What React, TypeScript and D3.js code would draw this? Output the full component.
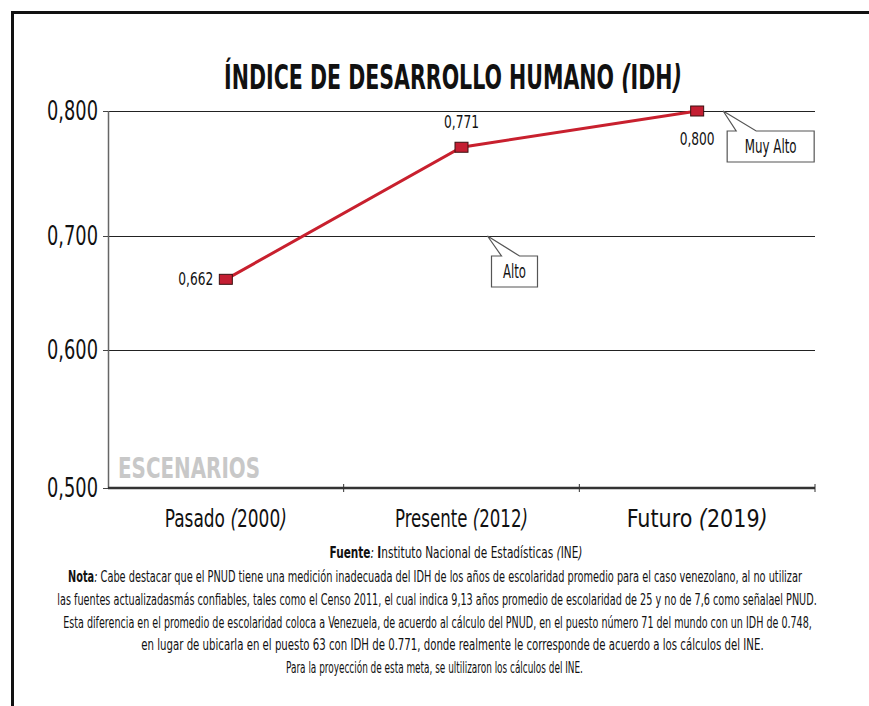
import React, { useRef, useEffect } from "react";
import * as d3 from "d3";

// chart data
const categories = ["Pasado", "Presente", "Futuro"];
const years = ["2000", "2012", "2019"];
const idhValues = [0.662, 0.771, 0.8];
const yTicks = [0.5, 0.6, 0.7, 0.8];
const callouts = [
  { label: "Alto", level: 0.7, cat: "Presente" },
  { label: "Muy Alto", level: 0.8, cat: "Futuro" },
];
const noteLines = [
  "las fuentes actualizadasmás confiables, tales como el Censo 2011, el cual indica 9,13 años promedio de escolaridad de 25 y no de 7,6 como señalael PNUD.",
  "Esta diferencia en el promedio de escolaridad coloca a Venezuela, de acuerdo al cálculo del PNUD, en el puesto número 71 del mundo con un IDH de 0.748,",
  "en lugar de ubicarla en el puesto 63 con IDH de 0.771, donde realmente le corresponde de acuerdo a los cálculos del INE.",
  "Para la proyección de esta meta, se ultilizaron los cálculos del INE.",
];

const W = 869;
const H = 706;
const FONT = "'DejaVu Sans Condensed', 'DejaVu Sans', sans-serif";
const fmt = (v: number) => v.toFixed(3).replace(".", ",");

// squeeze a text horizontally around its anchor so it takes the given width
function squeeze(node: SVGTextElement, width: number) {
  const bw = node.getBBox().width;
  if (!bw) return;
  const s = width / bw;
  const ax = +(node.getAttribute("x") || 0);
  d3.select(node).attr("transform", `translate(${ax * (1 - s)},0) scale(${s},1)`);
}

const App = () => {
  const svgRef = useRef<SVGSVGElement>(null);

  useEffect(() => {
    const svg = d3.select(svgRef.current);
    svg.selectAll("*").remove();
    svg.style("font-family", FONT);

    const left = 108,
      right = 815,
      top = 111,
      bottom = 488;

    const x = d3.scaleBand().domain(categories).range([left, right]);
    // the original axis has uneven tick spacing, so the scale is piecewise
    const y = d3.scaleLinear().domain(yTicks).range([bottom, 350, 236, top]);
    const cx = (c: string) => (x(c) as number) + x.bandwidth() / 2;

    // frame
    svg
      .append("rect")
      .attr("x", 12.5)
      .attr("y", 12.5)
      .attr("width", W + 20)
      .attr("height", H + 20)
      .attr("fill", "white")
      .attr("stroke", "#111")
      .attr("stroke-width", 3);

    // title
    const title = svg
      .append("text")
      .attr("x", 453)
      .attr("y", 89)
      .attr("text-anchor", "middle")
      .attr("font-size", 34)
      .attr("font-weight", "bold")
      .attr("fill", "#111");
    title.append("tspan").text("ÍNDICE DE DESARROLLO HUMANO ");
    title.append("tspan").attr("font-style", "italic").text("(");
    title.append("tspan").text("IDH");
    title.append("tspan").attr("font-style", "italic").text(")");
    squeeze(title.node() as SVGTextElement, 458);

    // gridlines
    svg
      .append("g")
      .selectAll("line")
      .data(yTicks.filter((t) => t > 0.5))
      .join("line")
      .attr("x1", left)
      .attr("x2", right)
      .attr("y1", (d) => Math.round(y(d)) + 0.5)
      .attr("y2", (d) => Math.round(y(d)) + 0.5)
      .attr("stroke", "#222")
      .attr("stroke-width", 1);

    // y axis
    const yAxis = svg.append("g");
    yAxis
      .append("line")
      .attr("x1", left + 0.5)
      .attr("x2", left + 0.5)
      .attr("y1", top)
      .attr("y2", bottom)
      .attr("stroke", "#666")
      .attr("stroke-width", 1.5);
    yAxis
      .selectAll("line.tick")
      .data(yTicks)
      .join("line")
      .attr("class", "tick")
      .attr("x1", left - 5)
      .attr("x2", left)
      .attr("y1", (d) => Math.round(y(d)) + 0.5)
      .attr("y2", (d) => Math.round(y(d)) + 0.5)
      .attr("stroke", "#444");
    yAxis
      .selectAll("text")
      .data(yTicks)
      .join("text")
      .attr("x", 98)
      .attr("y", (d) => y(d) + 9)
      .attr("text-anchor", "end")
      .attr("font-size", 27)
      .attr("fill", "#111")
      .text(fmt)
      .each(function () {
        squeeze(this as SVGTextElement, 51);
      });

    // ESCENARIOS
    const esc = svg
      .append("text")
      .attr("x", 118)
      .attr("y", 478)
      .attr("font-size", 28)
      .attr("font-weight", "bold")
      .attr("fill", "#c8c8c8")
      .text("ESCENARIOS");
    squeeze(esc.node() as SVGTextElement, 142);

    // x axis
    const xAxis = svg.append("g");
    xAxis
      .append("line")
      .attr("x1", left)
      .attr("x2", right)
      .attr("y1", bottom)
      .attr("y2", bottom)
      .attr("stroke", "#333")
      .attr("stroke-width", 2.5);
    xAxis
      .selectAll("line.tick")
      .data(categories)
      .join("line")
      .attr("class", "tick")
      .attr("x1", (d) => (x(d) as number) + x.bandwidth())
      .attr("x2", (d) => (x(d) as number) + x.bandwidth())
      .attr("y1", bottom - 4)
      .attr("y2", bottom + 4)
      .attr("stroke", "#333");
    const catWidths = [122, 133, 141];
    const catText = xAxis
      .selectAll("text")
      .data(categories)
      .join("text")
      .attr("x", (d) => cx(d))
      .attr("y", 527)
      .attr("text-anchor", "middle")
      .attr("font-size", 24)
      .attr("fill", "#111");
    catText.append("tspan").text((d) => d + " ");
    catText.append("tspan").attr("font-style", "italic").text("(");
    catText.append("tspan").text((d, i) => years[i]);
    catText.append("tspan").attr("font-style", "italic").text(")");
    catText.each(function (d, i) {
      squeeze(this as SVGTextElement, catWidths[i]);
    });

    // line
    const line = d3
      .line<number>()
      .x((d, i) => cx(categories[i]))
      .y((d) => y(d));
    svg
      .append("path")
      .datum(idhValues)
      .attr("d", line)
      .attr("fill", "none")
      .attr("stroke", "#c8202e")
      .attr("stroke-width", 3);

    // markers
    svg
      .append("g")
      .selectAll("rect")
      .data(idhValues)
      .join("rect")
      .attr("x", (d, i) => cx(categories[i]) - 6.5)
      .attr("y", (d) => y(d) - 5)
      .attr("width", 13)
      .attr("height", 10)
      .attr("fill", "#c41e32")
      .attr("stroke", "#3a1010")
      .attr("stroke-width", 1);

    // value labels
    const labelPos = [
      { dx: -30, dy: 6 },
      { dx: 0, dy: -19 },
      { dx: 0, dy: 34 },
    ];
    svg
      .append("g")
      .selectAll("text")
      .data(idhValues)
      .join("text")
      .attr("x", (d, i) => cx(categories[i]) + labelPos[i].dx)
      .attr("y", (d, i) => y(d) + labelPos[i].dy)
      .attr("text-anchor", "middle")
      .attr("font-size", 17)
      .attr("fill", "#111")
      .text(fmt)
      .each(function () {
        squeeze(this as SVGTextElement, 35);
      });

    // callouts
    const boxW = (s: string) => (s.length > 5 ? 87 : 46);
    const cg = svg
      .append("g")
      .selectAll("g")
      .data(callouts)
      .join("g")
      .attr("transform", (d) => `translate(${cx(d.cat) + 26},${Math.round(y(d.level))})`);
    cg.append("path")
      .attr("d", (d) => {
        const w = boxW(d.label);
        const a = w > 50 ? 13 : 14;
        const b = w > 50 ? 33 : 32;
        return `M4,20 L${a},20 L0,0 L${b},20 L${4 + w},20 L${4 + w},51 L4,51 Z`;
      })
      .attr("fill", "white")
      .attr("stroke", "#555")
      .attr("stroke-width", 1.2);
    cg.append("text")
      .attr("x", (d) => 4 + boxW(d.label) / 2)
      .attr("y", 42)
      .attr("text-anchor", "middle")
      .attr("font-size", 19)
      .attr("fill", "#111")
      .text((d) => d.label)
      .each(function (d) {
        squeeze(this as SVGTextElement, d.label.length > 5 ? 52 : 23);
      });

    // footer
    const foot = svg.append("g").attr("font-size", 16).attr("fill", "#111");
    const f1 = foot
      .append("text")
      .attr("x", 456)
      .attr("y", 558)
      .attr("text-anchor", "middle");
    f1.append("tspan").attr("font-weight", "bold").text("Fuente");
    f1.append("tspan").attr("font-style", "italic").text(": ");
    f1.append("tspan").attr("font-weight", "bold").text("I");
    f1.append("tspan").text("nstituto Nacional de Estadísticas ");
    f1.append("tspan").attr("font-style", "italic").text("(");
    f1.append("tspan").text("INE");
    f1.append("tspan").attr("font-style", "italic").text(")");
    squeeze(f1.node() as SVGTextElement, 253);

    const f2 = foot
      .append("text")
      .attr("x", 435)
      .attr("y", 582)
      .attr("text-anchor", "middle");
    f2.append("tspan").attr("font-weight", "bold").text("Nota");
    f2.append("tspan").attr("font-style", "italic").text(": ");
    f2.append("tspan").text(
      "Cabe destacar que el PNUD tiene una medición inadecuada del IDH de los años de escolaridad promedio para el caso venezolano, al no utilizar"
    );
    squeeze(f2.node() as SVGTextElement, 735);

    const spans = [
      [57, 817],
      [63, 812],
      [141, 764],
      [286, 583],
    ];
    foot
      .selectAll("text.note")
      .data(noteLines)
      .join("text")
      .attr("class", "note")
      .attr("x", (d, i) => (spans[i][0] + spans[i][1]) / 2)
      .attr("y", (d, i) => 605 + i * 22.7)
      .attr("text-anchor", "middle")
      .text((d) => d)
      .each(function (d, i) {
        squeeze(this as SVGTextElement, spans[i][1] - spans[i][0]);
      });
  }, []);

  return (
    <svg
      ref={svgRef}
      width={W}
      height={H}
      style={{ position: "absolute", top: 0, left: 0, background: "white" }}
    ></svg>
  );
};

export default App;
